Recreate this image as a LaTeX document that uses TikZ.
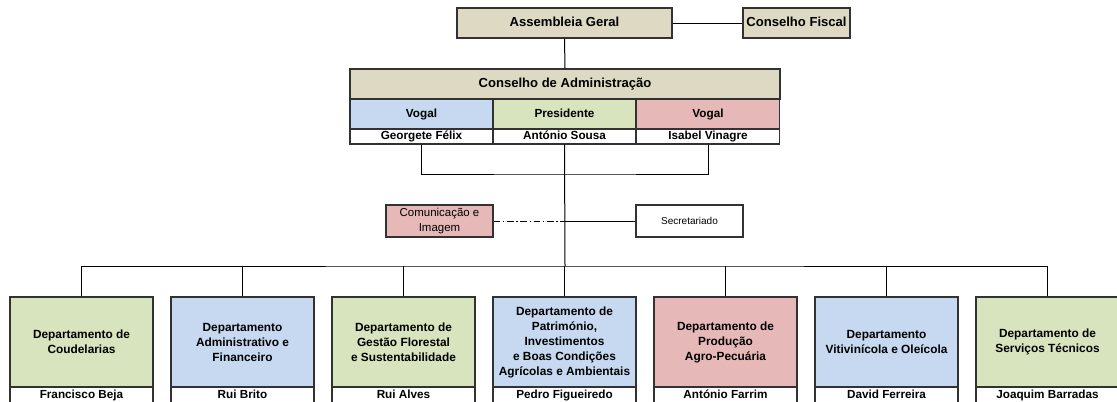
\documentclass[tikz,border=0pt]{standalone}
\usepackage{fontspec}
\setmainfont{Liberation Sans}
\definecolor{tan}{RGB}{221,217,195}
\definecolor{blu}{RGB}{198,217,241}
\definecolor{grn}{RGB}{215,228,189}
\definecolor{pnk}{RGB}{230,185,184}
\definecolor{edge}{RGB}{50,50,50}
\def\px{0.75pt}
\begin{document}
\begin{tikzpicture}[x=0.75pt, y=-0.75pt,
    every node/.style={draw=edge, line width=0.9pt, rectangle, inner sep=0pt, align=center},
    oneline/.style={text height=0.72em, text depth=0.22em},
    title/.style={fill=tan, oneline, font=\fontsize{9.8}{11}\selectfont\bfseries},
    role/.style={minimum width=143*\px, minimum height=30*\px, oneline, font=\fontsize{8.8}{10}\selectfont\bfseries},
    person/.style={fill=white, minimum width=143*\px, minimum height=15*\px, oneline, font=\fontsize{8.8}{10}\selectfont\bfseries},
    unit/.style={minimum width=107*\px, minimum height=32*\px, font=\fontsize{8.6}{11}\selectfont},
    dept/.style={minimum width=143*\px, minimum height=90*\px, font=\fontsize{8.9}{11.25}\selectfont\bfseries},
    link/.style={line width=0.75pt, draw=black}]
    \useasboundingbox (0,0) rectangle (1117,401);
    \begin{scope}
    \clip (0,0) rectangle (1117,401);
    % topo
    \node[title, minimum width=215*\px, minimum height=30*\px] (ag) at (564.5,23) {Assembleia Geral};
    \node[title, minimum width=107*\px, minimum height=30*\px] (cf) at (796.5,23) {Conselho Fiscal};
    \node[title, minimum width=430*\px, minimum height=30*\px] (ca) at (565,84) {Conselho de Administração};
    \node[role, fill=blu] (v1) at (421.5,114) {Vogal};
    \node[role, fill=grn] (pr) at (564.5,114) {Presidente};
    \node[role, fill=pnk] (v2) at (708,114) {Vogal};
    \node[person] (n1) at (421.5,136.5) {Georgete Félix};
    \node[person] (n2) at (564.5,136.5) {António Sousa};
    \node[person] (n3) at (708,136.5) {Isabel Vinagre};
    % apoio
    \node[unit, fill=pnk] (com) at (439.5,221) {Comunicação e\\Imagem};
    \node[unit, fill=white, font=\fontsize{7.5}{9}\selectfont] (sec) at (689.5,221) {Secretariado};
    % departamentos
    \node[dept, fill=grn] (d1) at (81.5,342) {Departamento de\\Coudelarias};
    \node[dept, fill=blu] (d2) at (242.5,342) {Departamento\\Administrativo e\\Financeiro};
    \node[dept, fill=grn] (d3) at (403.5,342) {Departamento de\\Gestão Florestal\\e Sustentabilidade};
    \node[dept, fill=blu] (d4) at (564.5,342) {Departamento de\\Património,\\Investimentos\\e Boas Condições\\Agrícolas e Ambientais};
    \node[dept, fill=pnk] (d5) at (725.5,342) {Departamento de\\Produção\\Agro-Pecuária};
    \node[dept, fill=blu] (d6) at (886.5,342) {Departamento\\Vitivinícola e Oleícola};
    \node[dept, fill=grn] (d7) at (1047.5,342) {Departamento de\\Serviços Técnicos};
    \node[person, minimum height=16*\px] (p1) at (81.5,395) {Francisco Beja};
    \node[person, minimum height=16*\px] (p2) at (242.5,395) {Rui Brito};
    \node[person, minimum height=16*\px] (p3) at (403.5,395) {Rui Alves};
    \node[person, minimum height=16*\px] (p4) at (564.5,395) {Pedro Figueiredo};
    \node[person, minimum height=16*\px] (p5) at (725.5,395) {António Farrim};
    \node[person, minimum height=16*\px] (p6) at (886.5,395) {David Ferreira};
    \node[person, minimum height=16*\px] (p7) at (1047.5,395) {Joaquim Barradas};
    % ligacoes
    \coordinate (hub) at (565,174);
    \coordinate (bus) at (565,266);
    \draw[link] (ag.south) -- (ca.north);
    \draw[link] (ag.east) -- (cf.west);
    \draw[link] (n1.south) |- (hub) -| (n3.south);
    \draw[link] (n2.south) -- (bus);
    \draw[link, dash pattern=on 5pt off 2pt on 1pt off 2pt] (com.east) -- (com.east -| bus);
    \draw[link] (sec.west) -- (sec.west -| bus);
    \draw[link] (d1.north) |- (bus) -| (d7.north);
    \foreach \d in {d2,d3,d4,d5,d6}
        \draw[link] (\d.north) -- (\d.north |- bus);
    \end{scope}
\end{tikzpicture}
\end{document}
